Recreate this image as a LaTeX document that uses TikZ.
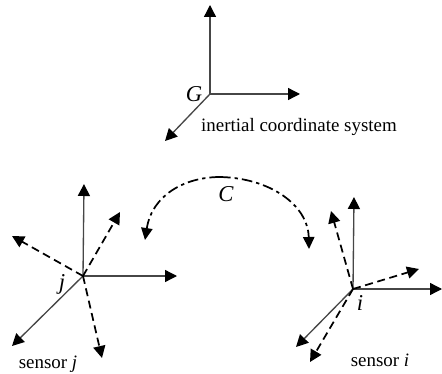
\documentclass[tikz,border=0pt]{standalone}
\usepackage{fontspec}
\setmainfont{Liberation Serif}
\usepackage{tikz}
\usetikzlibrary{arrows.meta}
\definecolor{axisgray}{RGB}{70,70,70}
\tikzset{
  axis/.style={axisgray, line width=1pt, -{Triangle[length=9pt,width=9pt,color=black]}},
  moved/.style={black, line width=1.3pt, dash pattern=on 6pt off 3.5pt, -{Triangle[length=9pt,width=9pt]}},
  path/.style={black, line width=1.3pt, dash pattern=on 8pt off 3pt on 2.5pt off 3pt, -{Triangle[length=9pt,width=8.5pt]}},
  label/.style={font=\fontsize{14.2}{16}\selectfont},
  letter/.style={font=\fontsize{17}{19}\selectfont\itshape}
}
\begin{document}
\begin{tikzpicture}[x=0.75pt, y=-0.75pt]
  \useasboundingbox (0,0) rectangle (442,374);
  % inertial frame
  \coordinate (G) at (210,94);
  \coordinate (Gz) at (210,5);
  \coordinate (Gy) at (300,94);
  \coordinate (Gx) at (165,141);
  \draw[axis] (G) -- (Gz);
  \draw[axis] (G) -- (Gy);
  \draw[axis] (G) -- (Gx);
  \node[letter] (Gname) at (194,94) {G};
  \node[label] (Gtext) at (299,127) {inertial coordinate system};
  % sensor j
  \coordinate (j) at (83,276);
  \coordinate (jz) at (84,184);
  \coordinate (jy) at (177,276);
  \coordinate (jx) at (12,346);
  \coordinate (jzm) at (120,212);
  \coordinate (jym) at (12,236);
  \coordinate (jxm) at (102,358);
  \draw[axis] (j) -- (jz);
  \draw[axis] (j) -- (jy);
  \draw[axis] (j) -- (jx);
  \draw[moved] (j) -- (jzm);
  \draw[moved] (j) -- (jym);
  \draw[moved] (j) -- (jxm);
  \node[letter] (jname) at (62,284) {j};
  \node[label] (jtext) at (48,364) {sensor \textit{j}};
  % sensor i
  \coordinate (i) at (353,289);
  \coordinate (iz) at (354,197);
  \coordinate (iy) at (442,289);
  \coordinate (ix) at (296,347);
  \coordinate (izm) at (331,211);
  \coordinate (iym) at (419,269);
  \coordinate (ixm) at (310,362);
  \draw[axis] (i) -- (iz);
  \draw[axis] (i) -- (iy);
  \draw[axis] (i) -- (ix);
  \draw[moved] (i) -- (izm);
  \draw[moved] (i) -- (iym);
  \draw[moved] (i) -- (ixm);
  \node[letter] (iname) at (360,303) {i};
  \node[label] (itext) at (380,360) {sensor \textit{i}};
  % trajectory
  \coordinate (Cleft) at (145,240);
  \coordinate (Ctop) at (220,177);
  \coordinate (Cright) at (309,249);
  \draw[path] (Ctop) .. controls (185,177) and (152,195) .. (Cleft);
  \draw[path] (Ctop) .. controls (270,178) and (308,205) .. (Cright);
  \node[letter] (Cname) at (226,194) {C};
\end{tikzpicture}
\end{document}
